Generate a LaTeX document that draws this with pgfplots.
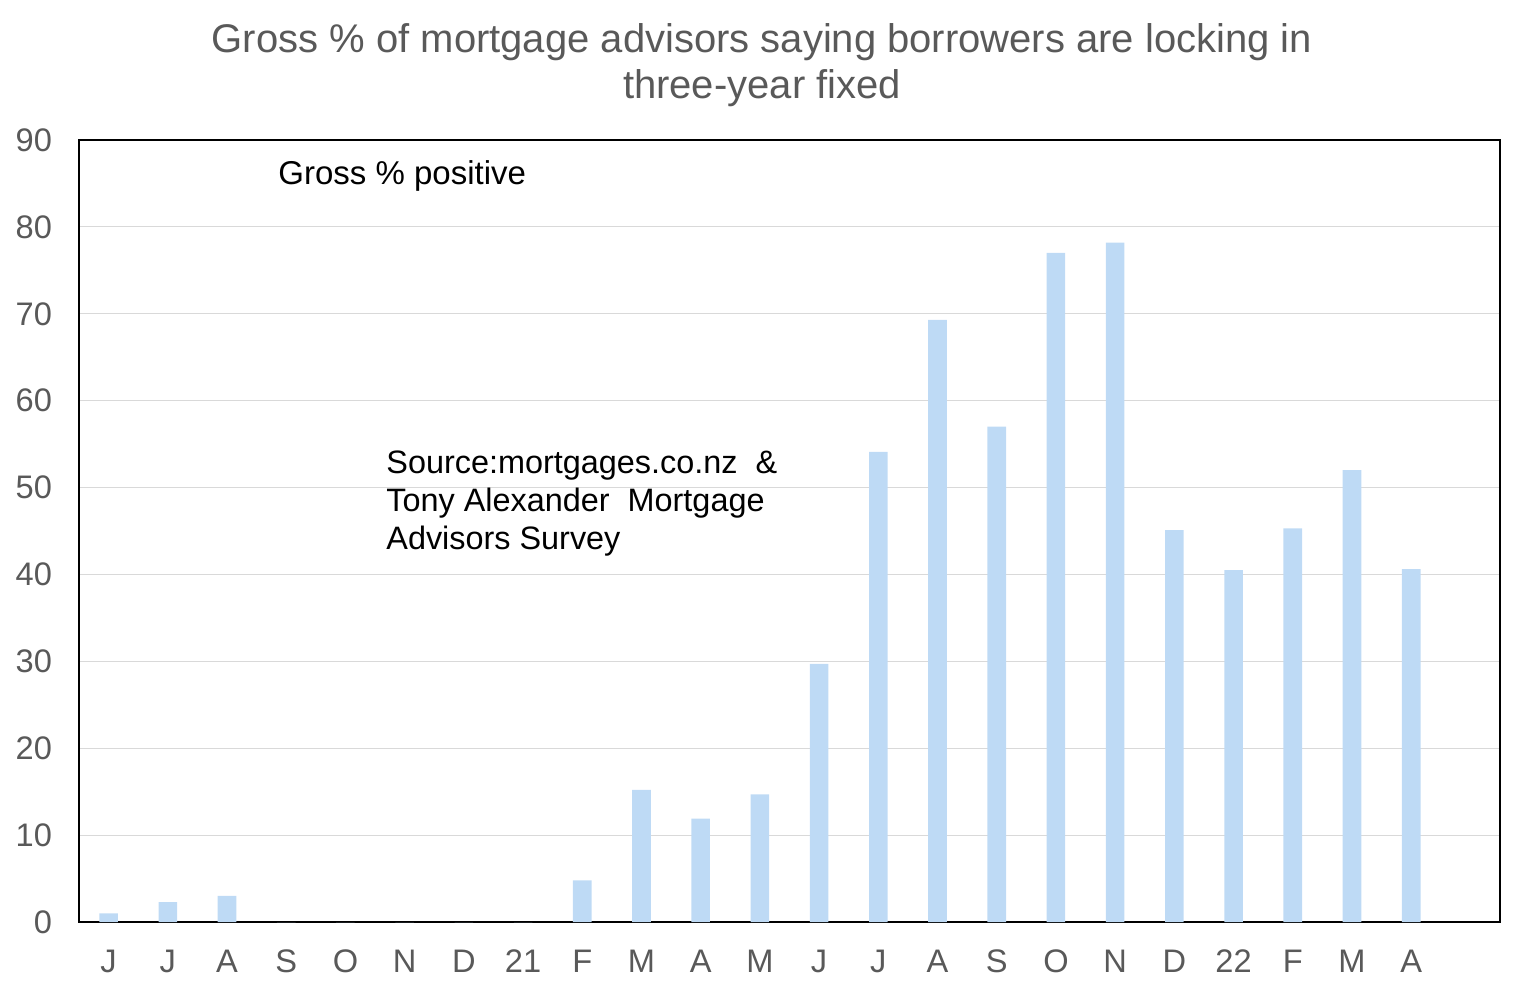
\documentclass[border=0pt]{standalone}
\usepackage{pgfplots}
\pgfplotsset{compat=1.18}
\usepackage{fontspec}
\setmainfont{Liberation Sans}
\definecolor{barblue}{RGB}{190,218,245}
\definecolor{tickgray}{RGB}{89,89,89}
\definecolor{gridgray}{RGB}{217,217,217}
\begin{document}
\begin{tikzpicture}[x=0.5pt,y=0.5pt]
\useasboundingbox (0,0) rectangle (1525,995);
\begin{axis}[
  at={(39.5pt,36.5pt)}, anchor=south west,
  scale only axis, width=710.5pt, height=391pt,
  xmin=-0.5, xmax=23.5, ymin=0, ymax=90,
  ytick={0,10,...,90},
  xtick={0,...,22},
  xticklabels={J,J,A,S,O,N,D,21,F,M,A,M,J,J,A,S,O,N,D,22,F,M,A},
  major tick length=0pt,
  ymajorgrids, grid style={gridgray, line width=0.6pt},
  axis line style={black, line width=0.8pt},
  tick label style={font=\fontsize{16.3}{19}\selectfont, text=tickgray},
  /pgf/number format/assume math mode=true,
  yticklabel style={xshift=-10pt},
  xticklabel style={yshift=-10.5pt},
  ybar, bar width=9.3pt,
]
\addplot[fill=barblue, draw=none] coordinates {
(0,1.0) (1,2.3) (2,3.0) (3,0) (4,0) (5,0) (6,0) (7,0)
(8,4.8) (9,15.2) (10,11.9) (11,14.7) (12,29.7) (13,54.1)
(14,69.3) (15,57.0) (16,77.0) (17,78.2) (18,45.1) (19,40.5)
(20,45.3) (21,52.0) (22,40.6)
};
\end{axis}
\node[anchor=center, text=tickgray, font=\fontsize{20}{24}\selectfont] at (762,953) {Gross \% of mortgage advisors saying borrowers are locking in};
\node[anchor=center, text=tickgray, font=\fontsize{20}{24}\selectfont] at (762,907) {three-year fixed};
\node[anchor=west, font=\fontsize{16.5}{19}\selectfont, inner sep=0pt] at (278,819) {Gross \% positive};
\node[anchor=north west, align=left, font=\fontsize{16.2}{19}\selectfont, inner sep=0pt] at (386,545) {Source:mortgages.co.nz \ \&\\Tony Alexander \ Mortgage\\Advisors Survey};
\end{tikzpicture}
\end{document}
